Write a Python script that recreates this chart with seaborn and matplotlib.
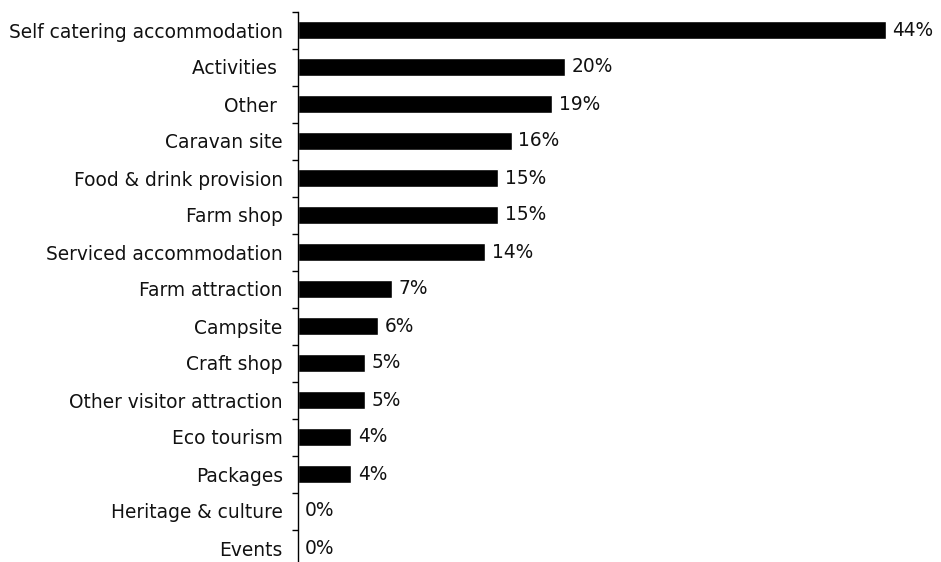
import matplotlib
matplotlib.use("Agg")
import matplotlib.pyplot as plt
import seaborn as sns
import pandas as pd
import numpy as np

categories = [
    "Self catering accommodation", "Activities ", "Other ", "Caravan site",
    "Food & drink provision", "Farm shop", "Serviced accommodation",
    "Farm attraction", "Campsite", "Craft shop", "Other visitor attraction",
    "Eco tourism", "Packages", "Heritage & culture", "Events",
]
shares = [44, 20, 19, 16, 15, 15, 14, 7, 6, 5, 5, 4, 4, 0, 0]

df = pd.DataFrame({"category": categories, "share": shares})

sns.set_theme(style="white")
plt.rcParams["font.family"] = ["DejaVu Sans"]

W, H = 941, 562
fig = plt.figure(figsize=(W / 100, H / 100), dpi=100)
x0, x_end = 298, 912.6
y_top, y_bot = 11.5, 566.5
ax = fig.add_axes([x0 / W, (H - y_bot) / H, (x_end - x0) / W, (y_bot - y_top) / H])

sns.barplot(data=df, x="share", y="category", orient="h", color="black",
            saturation=1, width=0.46, ax=ax)

ax.set_xlim(0, 46)
ax.set_ylim(len(categories) - 0.5, -0.5)
ax.set_xlabel("")
ax.set_ylabel("")
ax.set_xticks([])

for s in ["top", "right", "bottom"]:
    ax.spines[s].set_visible(False)
ax.spines["left"].set_color("black")
ax.spines["left"].set_linewidth(1)

ax.set_yticks(np.arange(len(categories)))
ax.set_yticklabels(categories, fontsize=13.4, color="#111111")
ax.tick_params(axis="y", which="major", length=0, pad=11)
ax.set_yticks(np.arange(len(categories)) - 0.5, minor=True)
ax.tick_params(axis="y", which="minor", length=4, width=1, color="black",
               direction="out", left=True)

for i, v in enumerate(shares):
    ax.text(v + 0.5, i, f"{v}%", va="center", ha="left", fontsize=13.4,
            color="#111111")

fig.savefig("out.png", dpi=100)
